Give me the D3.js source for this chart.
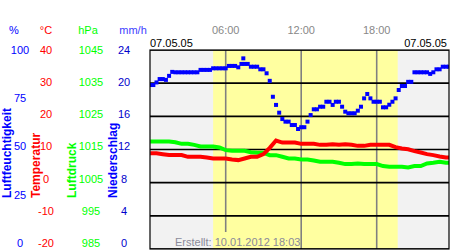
<!DOCTYPE html>
<html>
<head>
<meta charset="utf-8">
<script src="https://cdn.jsdelivr.net/npm/d3@7"></script>
<style>
  body { margin: 0; background: #fff; }
  svg { display: block; font-family: "Liberation Sans", Arial, sans-serif; }
</style>
</head>
<body>
<div id="chart"></div>
<script>
// humidity in %, one reading every 15 minutes from 00:00
const humidity = [82.4, 82.4, 83.7, 85.4, 85.4, 85, 87, 89, 88.8, 88.8, 88.8, 88.8, 88.8, 88.8, 88.8, 88.8,
    90, 90, 90, 90, 90.8, 90.8, 90.8, 90.8, 90.8, 92, 92, 92, 91.3, 93, 93, 93,
    91.6, 91.6, 91.6, 90.3, 90.3, 88.3, 84.5, 76.5, 72.4, 68.5, 65.3, 64, 64, 62.3, 62.3, 60.3,
    61.2, 61.2, 64, 67.3, 70.2, 70.2, 71.5, 71.5, 74, 74, 72.4, 74, 74, 71.5, 69, 68.2,
    68.2, 68.2, 69.5, 71.5, 75.7, 77.9, 75.7, 74, 74, 74, 71.2, 71.2, 72.5, 74, 75.7, 79.9,
    81.9, 81.9, 84, 84, 88.8, 88.8, 88.8, 88.8, 88.8, 88, 88.8, 90.3, 90.3, 91.6, 91.6, 91.6];
// single stray humidity reading [hour, %]
const humidityExtra = [[7.4, 95.8]];

// temperature in °C, every 30 minutes
const temperature = [8.85, 8.85, 8.6, 8.35, 8.35, 8.35, 7.8, 7.8, 7.8, 7.6, 7.3, 7.3, 7.3, 7.0, 6.8, 7.3,
    7.8, 7.8, 8.6, 10.5, 12.7, 12.1, 12.1, 12.1, 11.7, 11.7, 11.7, 11.4, 11.4, 11.6, 11.4, 11.6,
    11.4, 11.1, 11.1, 11.4, 11.4, 11.4, 11.4, 10.7, 10.3, 10.05, 9.5, 9.1, 8.6, 8.3, 7.9, 7.6, 7.6];

// air pressure in hPa, every 30 minutes
const pressure = [1017.4, 1017.4, 1017.4, 1017.4, 1017.2, 1016.7, 1016.7, 1016.4, 1015.9, 1015.9, 1015.9, 1015.6,
    1014.8, 1014.6, 1014.6, 1014.6, 1014.2, 1014, 1014, 1013.3, 1013.3, 1012.8, 1012.3, 1012.3,
    1012, 1012, 1011.7, 1011.3, 1011.3, 1011.3, 1011, 1010.6, 1010.6, 1010.8, 1010.6, 1010.6,
    1010.6, 1010, 1009.8, 1009.8, 1009.8, 1009.6, 1010, 1010, 1010.8, 1011, 1011.3, 1011, 1011];

const humTicks = [0, 25, 50, 75, 100];
const tempTicks = [-20, -10, 0, 10, 20, 30, 40];
const presTicks = [985, 995, 1005, 1015, 1025, 1035, 1045];
const rainTicks = [0, 4, 8, 12, 16, 20, 24];
const hourTicks = [6, 12, 18];
const daylight = [5, 19.67]; // sunrise, sunset in hours
const dateLabel = "07.05.05";
const createdLabel = "Erstellt: 10.01.2012 18:03";

const width = 450, height = 250;
const pLeft = 150, pTop = 50, pRight = 449, pBottom = 249;

const svg = d3.select("#chart").append("svg")
    .attr("width", width)
    .attr("height", height);

const x = d3.scaleLinear().domain([0, 24]).range([150.2, 452.2]);
const yTemp = d3.scaleLinear().domain([-20, 40]).range([pBottom, pTop]);
const yHum = d3.scaleLinear().domain([0, 100]).range([pBottom, pTop]);
const yPres = d3.scaleLinear().domain([985, 1045]).range([pBottom, pTop]);
const yRain = d3.scaleLinear().domain([0, 24]).range([pBottom, pTop]);

// label positions sit a bit off the grid, like in the original
const lTemp = yTemp.copy().range([243, 50]);
const lHum = yHum.copy().range([243, 50]);
const lPres = yPres.copy().range([243, 50]);
const lRain = yRain.copy().range([243, 50]);

svg.append("clipPath").attr("id", "plotclip")
    .append("rect")
    .attr("x", pLeft).attr("y", pTop)
    .attr("width", pRight - pLeft).attr("height", pBottom - pTop);

const plot = svg.append("g").attr("clip-path", "url(#plotclip)");

// night / day background
plot.append("rect")
    .attr("x", pLeft).attr("y", pTop)
    .attr("width", pRight - pLeft).attr("height", pBottom - pTop)
    .attr("fill", "#f2f2f2");
plot.append("rect")
    .attr("x", x(daylight[0])).attr("y", pTop)
    .attr("width", x(daylight[1]) - x(daylight[0])).attr("height", pBottom - pTop)
    .attr("fill", "#ffffa0");

// hour lines
plot.selectAll(".vline")
    .data(hourTicks)
    .join("line")
    .attr("x1", d => x(d)).attr("x2", d => x(d))
    .attr("y1", pTop)
    .attr("y2", d => d === 6 ? 232 : pBottom)
    .attr("stroke", "#808080")
    .attr("stroke-width", 1.6);

// horizontal grid
plot.selectAll(".hline")
    .data(tempTicks)
    .join("line")
    .attr("x1", pLeft).attr("x2", pRight)
    .attr("y1", d => yTemp(d)).attr("y2", d => yTemp(d))
    .attr("stroke", "#000")
    .attr("stroke-width", 1.6);

// series
const pressLine = d3.line()
    .x((d, i) => x(i * 0.5))
    .y(d => yPres(d));
plot.append("path")
    .datum(pressure)
    .attr("fill", "none")
    .attr("stroke", "#00ff00")
    .attr("stroke-width", 4)
    .attr("d", pressLine);

const tempLine = d3.line()
    .x((d, i) => x(i * 0.5))
    .y(d => yTemp(d));
plot.append("path")
    .datum(temperature)
    .attr("fill", "none")
    .attr("stroke", "#ff0000")
    .attr("stroke-width", 4)
    .attr("d", tempLine);

const humPoints = humidity.map((v, i) => [i * 0.25, v]).concat(humidityExtra);
plot.selectAll(".hum")
    .data(humPoints)
    .join("rect")
    .attr("x", d => x(d[0]) - 2)
    .attr("y", d => yHum(d[1]) - 2)
    .attr("width", 4)
    .attr("height", 4)
    .attr("fill", "#0000ff");

// frame
svg.append("rect")
    .attr("x", pLeft).attr("y", pTop)
    .attr("width", pRight - pLeft).attr("height", pBottom - pTop)
    .attr("fill", "none")
    .attr("stroke", "#000")
    .attr("stroke-width", 1.2);

// axis labels on the left
const axes = [
    { unit: "%", ticks: humTicks, scale: lHum, x: 20, ux: 14, color: "#0000ff", ucolor: "#0000ff" },
    { unit: "°C", ticks: tempTicks, scale: lTemp, x: 46, ux: 46, color: "#ff0000", ucolor: "#ff0000" },
    { unit: "hPa", ticks: presTicks, scale: lPres, x: 91, ux: 88, color: "#00ff00", ucolor: "#00ff00" },
    { unit: "mm/h", ticks: rainTicks, scale: lRain, x: 124, ux: 133, color: "#0000cc", ucolor: "#4040ff" }
];

axes.forEach(a => {
    svg.append("text")
        .attr("x", a.ux)
        .attr("y", 30)
        .attr("dy", "0.35em")
        .attr("text-anchor", "middle")
        .attr("font-size", 11)
        .attr("fill", a.ucolor)
        .text(a.unit);

    svg.append("g")
        .selectAll("text")
        .data(a.ticks)
        .join("text")
        .attr("x", a.x)
        .attr("y", d => a.scale(d))
        .attr("dy", "0.35em")
        .attr("text-anchor", "middle")
        .attr("font-size", 11)
        .attr("fill", a.color)
        .text(d => d);
});

// rotated series names
const names = [
    { text: "Luftfeuchtigkeit", x: 7, color: "#0000ff" },
    { text: "Temperatur", x: 36, color: "#ff0000" },
    { text: "Luftdruck", x: 72, color: "#00ff00" },
    { text: "Niederschlag", x: 113, color: "#0000ff" }
];
svg.append("g")
    .selectAll("text")
    .data(names)
    .join("text")
    .attr("transform", d => `translate(${d.x},198) rotate(-90)`)
    .attr("dy", "0.35em")
    .attr("font-size", 12)
    .attr("font-weight", "bold")
    .attr("fill", d => d.color)
    .text(d => d.text);

// hour labels above the plot
svg.append("g")
    .selectAll("text")
    .data(hourTicks)
    .join("text")
    .attr("x", d => x(d))
    .attr("y", 30)
    .attr("dy", "0.35em")
    .attr("text-anchor", "middle")
    .attr("font-size", 11)
    .attr("fill", "#888")
    .text(d => d3.format("02")(d) + ":00");

svg.append("text")
    .attr("x", 150).attr("y", 43)
    .attr("dy", "0.35em")
    .attr("font-size", 11)
    .attr("fill", "#000")
    .text(dateLabel);
svg.append("text")
    .attr("x", 447).attr("y", 43)
    .attr("dy", "0.35em")
    .attr("text-anchor", "end")
    .attr("font-size", 11)
    .attr("fill", "#000")
    .text(dateLabel);

svg.append("text")
    .attr("x", 175).attr("y", 242)
    .attr("dy", "0.35em")
    .attr("font-size", 11)
    .attr("fill", "#8a8a9a")
    .text(createdLabel);
</script>
</body>
</html>
